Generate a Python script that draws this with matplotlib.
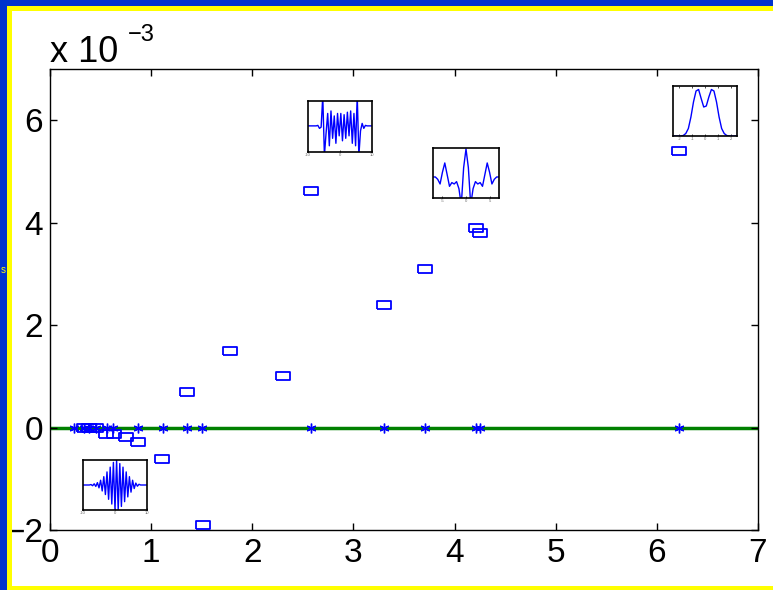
import numpy as np
import matplotlib
matplotlib.use("Agg")
import matplotlib.pyplot as plt
from matplotlib.patches import Rectangle

plt.rcParams['font.family'] = ['Liberation Sans', 'DejaVu Sans']

# main data, y in units of 1e-3
sq_x = [0.34, 0.39, 0.45, 0.55, 0.63, 0.75, 0.87, 1.11, 1.355, 1.51, 1.78, 2.30,
        2.58, 3.30, 3.71, 4.21, 4.25, 6.22]
sq_y = [0.0, 0.0, 0.0, -0.12, -0.12, -0.19, -0.29, -0.61, 0.70, -1.91, 1.50, 1.00,
        4.61, 2.40, 3.10, 3.89, 3.79, 5.39]
star_x = [0.24, 0.34, 0.39, 0.45, 0.56, 0.62, 0.87, 1.12, 1.355, 1.50, 2.58, 3.30,
          3.71, 4.21, 4.25, 6.22]
star_y = [0.0] * len(star_x)
xticks = [0, 1, 2, 3, 4, 5, 6, 7]
yticks = [-2, 0, 2, 4, 6]

# inset curves
wave1 = [0, 0, 0, 0, 0, 0.02, -0.03, 0.05, -0.06, 0.1, -0.12, 0.2, -0.25, 0.35, -0.4,
         0.55, -0.6, 0.75, -0.8, 0.95, -1.05, 1.05, -1.05, 0.9, -0.9, 0.75, -0.7, 0.55,
         -0.5, 0.35, -0.3, 0.2, -0.15, 0.08, -0.05, 0.03, 0, 0, 0, 0, 0]
wave2 = [0, 0, 0, 0, 0, 0, 0.02, -0.1, -0.05, 1.2, -1.2, -0.3, 0.5, -0.8, 0.6, -0.5,
         0.4, -0.7, 0.5, -0.4, 0.5, -0.6, 0.45, -0.5, 0.55, -0.4, 0.6, -0.7, 0.5, -0.8,
         1.2, -1.2, -0.2, 0.1, -0.1, 0.02, 0, 0, 0, 0]
wave3_x = [-7, -6.5, -6, -5.5, -5, -4.5, -4, -3.5, -3, -2.5, -2, -1.5, -1, -0.5, 0,
           0.5, 1, 1.5, 2, 2.5, 3, 3.5, 4, 4.5, 5, 5.5, 6, 6.5, 7]
wave3_y = [0, 0, -0.05, -0.15, 0.1, 0.3, 0.05, -0.2, -0.12, -0.15, -0.1, -0.25, -0.6,
           0.2, 0.6, 0.2, -0.6, -0.25, -0.1, -0.15, -0.12, -0.2, 0.05, 0.3, 0.1, -0.15,
           -0.05, 0, 0]
wave4_x = [-2.5, -2.3, -2.1, -1.9, -1.7, -1.5, -1.3, -1.1, -0.9, -0.7, -0.5, -0.3, -0.1,
           0.1, 0.3, 0.5, 0.7, 0.9, 1.1, 1.3, 1.5, 1.7, 1.9, 2.1, 2.3, 2.5]
wave4_y = [0, 0, 0, 0, 0.01, 0.05, 0.15, 0.38, 0.68, 0.9, 0.93, 0.75, 0.58, 0.6, 0.78,
           0.93, 0.9, 0.68, 0.38, 0.15, 0.05, 0.01, 0, 0, 0, 0]

W, H = 773, 590
fig = plt.figure(figsize=(W / 100, H / 100), dpi=100)
fig.patch.set_facecolor('white')

def px_box(x0, y0, x1, y1):
    return [x0 / W, 1 - y1 / H, (x1 - x0) / W, (y1 - y0) / H]

# slide frame
blue = '#0033cc'
yellow = '#ffff00'
fig.add_artist(Rectangle((0, 584 / H), 1, 6 / H, transform=fig.transFigure, color=blue, lw=0))
fig.add_artist(Rectangle((7 / W, 579 / H), 1, 5 / H, transform=fig.transFigure, color=yellow, lw=0))
fig.add_artist(Rectangle((0, 0), 7 / W, 1, transform=fig.transFigure, color=blue, lw=0))
fig.add_artist(Rectangle((7 / W, 0), 5 / W, 579 / H, transform=fig.transFigure, color=yellow, lw=0))
fig.add_artist(Rectangle((7 / W, 0), 1, 4 / H, transform=fig.transFigure, color=yellow, lw=0))
fig.text(1 / W, 1 - 273 / H, 's', color=yellow, fontsize=7, ha='left', va='baseline')

ax = fig.add_axes(px_box(50, 69, 758, 530))
ax.axhline(0, color='#008000', lw=2.5, zorder=1)
rect = [(-1.5, -1), (1.5, -1), (1.5, 1), (-1.5, 1), (-1.5, -1)]
ax.plot(sq_x, sq_y, ls='none', marker=rect, ms=9.5, mfc='none', mec='blue', mew=1.3, zorder=3)
ax.plot(star_x, star_y, ls='none', marker=(6, 2, 0), ms=7, color='blue', mew=1.0, zorder=3)
ax.set_xlim(0, 7)
ax.set_ylim(-2, 7)
ax.set_xticks(xticks)
ax.set_yticks(yticks)
ax.tick_params(direction='in', length=5, width=1, top=True, right=True,
               labelsize=24, pad=6)
ax.tick_params(axis='y', pad=5)
for s in ax.spines.values():
    s.set_linewidth(1)

fig.text(50 / W, 1 - 62 / H, 'x 10', fontsize=26, va='baseline', ha='left')
fig.text(128 / W, 1 - 41 / H, '\u22123', fontsize=17, va='baseline', ha='left')

def inset(box, x, y, xlim, ylim, ticks, top=False):
    a = fig.add_axes(px_box(*box))
    a.plot(x, y, color='blue', lw=1)
    a.set_xlim(*xlim)
    a.set_ylim(*ylim)
    a.set_xticks(ticks)
    a.set_xticklabels([str(t) for t in ticks])
    a.set_yticks([])
    a.tick_params(direction='in', length=1.5, width=0.5, labelsize=3,
                  labelcolor='#666666', pad=0.5, top=top)
    for s in a.spines.values():
        s.set_linewidth(1.2)
    return a

inset((83, 460, 147, 510), np.linspace(-10, 10, len(wave1)), wave1,
      (-10, 10), (-1.05, 1.05), [-10, 0, 10])
inset((308, 101, 372, 152), np.linspace(-10, 10, len(wave2)), wave2,
      (-10, 10), (-1.05, 1.0), [-10, 0, 10])
inset((433, 148, 499, 198), wave3_x, wave3_y, (-7, 7), (-0.45, 0.62), [-5, 0, 5])
inset((673, 86, 737, 136), wave4_x, wave4_y, (-2.5, 2.5), (0, 1.0),
      [-2, -1, 0, 1, 2], top=True)

fig.savefig('out.png', dpi=100)
